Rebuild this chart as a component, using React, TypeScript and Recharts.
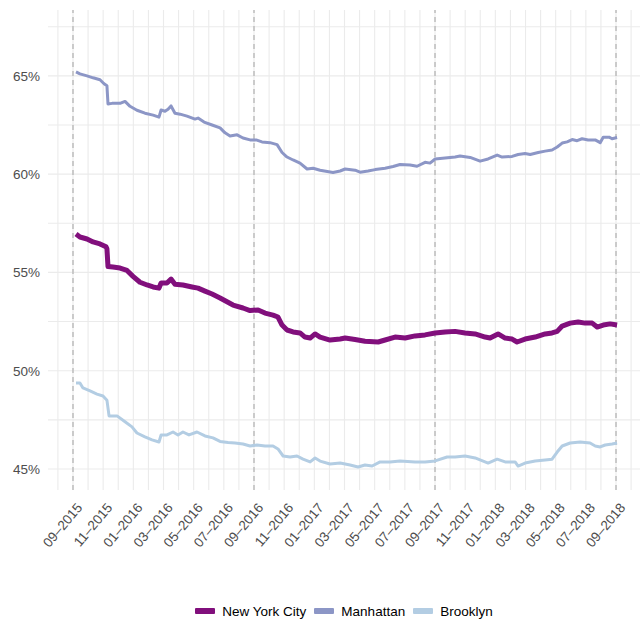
import { LineChart, Line, XAxis, YAxis, ReferenceLine, Legend } from 'recharts';

const FONT = '"Liberation Sans", Arial, Helvetica, sans-serif';

// x values are months since 09-2015
const nycMonths = [0.2, 0.46, 0.93, 1.33, 1.79, 2.19, 2.25, 2.32, 2.65, 3.12, 3.58, 3.98, 4.44, 4.91, 5.31, 5.7, 5.84, 6.23, 6.5, 6.76, 7.29, 7.89, 8.29, 8.75, 9.22, 9.75, 10.61, 11.27, 11.74, 12.27, 12.73, 13.26, 13.59, 13.86, 14.19, 14.59, 15.05, 15.38, 15.72, 16.05, 16.38, 17.04, 17.71, 18.04, 18.7, 19.36, 20.23, 20.69, 21.35, 22.02, 22.68, 23.34, 24.01, 24.67, 25.33, 25.99, 26.66, 27.32, 27.65, 28.18, 28.65, 29.11, 29.44, 29.97, 30.64, 31.3, 31.76, 32.1, 32.43, 32.96, 33.49, 33.95, 34.42, 34.75, 35.15, 35.61, 36.07];
const nycShare = [56.95, 56.8, 56.7, 56.55, 56.45, 56.3, 56.2, 55.3, 55.27, 55.22, 55.1, 54.8, 54.5, 54.36, 54.26, 54.2, 54.46, 54.46, 54.66, 54.4, 54.36, 54.26, 54.2, 54.05, 53.9, 53.7, 53.34, 53.19, 53.06, 53.09, 52.93, 52.83, 52.73, 52.32, 52.07, 51.97, 51.92, 51.71, 51.66, 51.87, 51.71, 51.56, 51.61, 51.66, 51.59, 51.5, 51.46, 51.56, 51.71, 51.66, 51.77, 51.82, 51.92, 51.97, 52.0, 51.92, 51.87, 51.71, 51.66, 51.87, 51.66, 51.61, 51.46, 51.61, 51.71, 51.87, 51.92, 52.0, 52.27, 52.42, 52.48, 52.42, 52.42, 52.22, 52.32, 52.38, 52.32];

const manhattanMonths = [0.2, 0.46, 0.93, 1.33, 1.79, 2.06, 2.25, 2.32, 2.59, 3.12, 3.45, 3.78, 4.24, 4.77, 5.31, 5.7, 5.84, 6.1, 6.3, 6.5, 6.76, 7.1, 7.56, 8.09, 8.29, 8.69, 9.22, 9.75, 10.08, 10.41, 10.88, 11.27, 11.74, 12.14, 12.53, 13.06, 13.53, 13.86, 14.19, 14.59, 15.05, 15.52, 15.92, 16.38, 17.24, 17.71, 18.04, 18.7, 19.03, 19.56, 20.03, 20.69, 21.22, 21.68, 22.35, 22.81, 23.34, 23.67, 24.01, 24.67, 25.33, 25.66, 26.33, 26.99, 27.52, 28.12, 28.45, 29.11, 29.51, 29.97, 30.31, 30.84, 31.3, 31.76, 32.1, 32.43, 32.76, 33.09, 33.42, 33.75, 34.15, 34.62, 34.95, 35.15, 35.54, 35.74, 36.07];
const manhattanShare = [65.2, 65.1, 65.0, 64.9, 64.8, 64.6, 64.5, 63.57, 63.6, 63.6, 63.7, 63.45, 63.25, 63.1, 63.0, 62.9, 63.26, 63.2, 63.3, 63.47, 63.1, 63.05, 62.95, 62.8, 62.85, 62.65, 62.5, 62.35, 62.1, 61.94, 62.0, 61.84, 61.74, 61.74, 61.64, 61.6, 61.5, 61.1, 60.87, 60.72, 60.56, 60.26, 60.3, 60.2, 60.08, 60.16, 60.26, 60.2, 60.1, 60.16, 60.23, 60.3, 60.39, 60.49, 60.46, 60.4, 60.6, 60.56, 60.77, 60.82, 60.87, 60.92, 60.85, 60.66, 60.77, 60.97, 60.87, 60.9, 61.0, 61.05, 61.0, 61.1, 61.17, 61.23, 61.38, 61.58, 61.64, 61.76, 61.7, 61.8, 61.74, 61.74, 61.6, 61.88, 61.88, 61.8, 61.86];

const brooklynMonths = [0.2, 0.46, 0.66, 1.13, 1.59, 1.99, 2.25, 2.39, 2.92, 3.45, 3.91, 4.24, 4.77, 5.24, 5.7, 5.84, 6.23, 6.63, 6.96, 7.29, 7.69, 8.22, 8.75, 9.28, 9.75, 10.28, 10.74, 11.27, 11.74, 12.2, 12.73, 13.26, 13.59, 13.93, 14.39, 14.85, 15.25, 15.72, 16.05, 16.38, 17.04, 17.71, 18.37, 18.9, 19.36, 19.83, 20.36, 21.02, 21.68, 22.68, 23.34, 24.01, 24.8, 25.33, 25.99, 26.66, 27.52, 28.12, 28.65, 29.31, 29.51, 29.97, 30.64, 31.3, 31.76, 32.1, 32.43, 32.96, 33.62, 34.28, 34.62, 34.95, 35.28, 35.74, 36.07];
const brooklynShare = [49.37, 49.37, 49.12, 48.97, 48.81, 48.71, 48.5, 47.7, 47.7, 47.4, 47.14, 46.83, 46.63, 46.48, 46.37, 46.73, 46.73, 46.88, 46.73, 46.88, 46.73, 46.88, 46.68, 46.58, 46.4, 46.35, 46.32, 46.27, 46.17, 46.22, 46.17, 46.17, 46.02, 45.66, 45.61, 45.66, 45.5, 45.36, 45.56, 45.4, 45.25, 45.3, 45.2, 45.1, 45.2, 45.15, 45.36, 45.36, 45.41, 45.36, 45.36, 45.41, 45.61, 45.61, 45.66, 45.56, 45.3, 45.5, 45.36, 45.36, 45.15, 45.3, 45.41, 45.46, 45.5, 45.86, 46.17, 46.32, 46.37, 46.32, 46.17, 46.12, 46.22, 46.27, 46.32];

const monthTicks = Array.from({ length: 39 }, (_, i) => i - 1);
const xLabels = ['09–2015', '11–2015', '01–2016', '03–2016', '05–2016', '07–2016', '09–2016', '11–2016', '01–2017', '03–2017', '05–2017', '07–2017', '09–2017', '11–2017', '01–2018', '03–2018', '05–2018', '07–2018', '09–2018'];
const yTicks = [45, 47.5, 50, 52.5, 55, 57.5, 60, 62.5, 65, 67.5];
const yearMarks = [0, 12, 24, 36];

const series = [
  { name: 'New York City', months: nycMonths, values: nycShare, color: '#810f7c', width: 5 },
  { name: 'Manhattan', months: manhattanMonths, values: manhattanShare, color: '#8c96c6', width: 3 },
  { name: 'Brooklyn', months: brooklynMonths, values: brooklynShare, color: '#b3cde3', width: 3 },
];

const XTick = ({ x, y, payload }: any) => {
  const m = payload.value;
  if (m < 0 || m % 2 !== 0) return <g />;
  const ax = x + 10;
  const ay = y + 16;
  return (
    <text x={ax} y={ay} transform={`rotate(-50, ${ax}, ${ay})`} textAnchor="end"
      fontSize={13.5} fill="#4d4d4d" fontFamily={FONT}>
      {xLabels[m / 2]}
    </text>
  );
};

const YTick = ({ x, y, payload }: any) => {
  const v = payload.value;
  if (v % 5 !== 0) return <g />;
  return (
    <text x={x} y={y} dy="0.36em" textAnchor="end" fontSize={13.5} fill="#4d4d4d" fontFamily={FONT}>
      {`${v}%`}
    </text>
  );
};

const LegendContent = () => (
  <div style={{ height: 32, display: 'flex', justifyContent: 'center', alignItems: 'center', paddingTop: 10, boxSizing: 'border-box', fontFamily: FONT, fontSize: 13.5, color: '#000' }}>
    {series.map((s, i) => (
      <div key={s.name} style={{ display: 'flex', alignItems: 'center', marginLeft: i ? 8 : 0 }}>
        <div style={{ width: 20, height: 6, background: s.color, marginRight: 7, borderRadius: 1 }} />
        <span>{s.name}</span>
      </div>
    ))}
  </div>
);

export default function App() {
  return (
    <div style={{ position: 'absolute', left: 0, top: 0, background: '#fff' }}>
      <LineChart width={640} height={622} margin={{ top: 10, right: 0, left: 0, bottom: 0 }}>
        <XAxis dataKey="m" type="number" domain={[-1.657, 37.59]} ticks={monthTicks} interval={0}
          allowDataOverflow axisLine={false} tickLine={false} tickSize={0} height={100} tick={<XTick />} />
        <YAxis type="number" domain={[43.93, 68.35]} ticks={yTicks} interval={0} allowDataOverflow
          axisLine={false} tickLine={false} tickSize={0} tickMargin={8} width={48} tick={<YTick />} />
        {/* grid */}
        {yTicks.map(t => (
          <ReferenceLine key={`h${t}`} y={t} stroke="#ebebeb" strokeWidth={1.1} />
        ))}
        {monthTicks.map(t => (
          <ReferenceLine key={`v${t}`} x={t} stroke="#ebebeb" strokeWidth={1.1} />
        ))}
        {yearMarks.map(m => (
          <ReferenceLine key={m} x={m} stroke="#bdbdbd" strokeWidth={1.5} strokeDasharray="5 4" />
        ))}
        {series.map(s => (
          <Line key={s.name} data={s.months.map((m, i) => ({ m, v: s.values[i] }))} dataKey="v" name={s.name}
            type="linear" stroke={s.color} strokeWidth={s.width} dot={false} activeDot={false}
            strokeLinejoin="round" isAnimationActive={false} />
        ))}
        <Legend verticalAlign="bottom" wrapperStyle={{ left: 48, width: 592 }} content={<LegendContent />} />
      </LineChart>
    </div>
  );
}
